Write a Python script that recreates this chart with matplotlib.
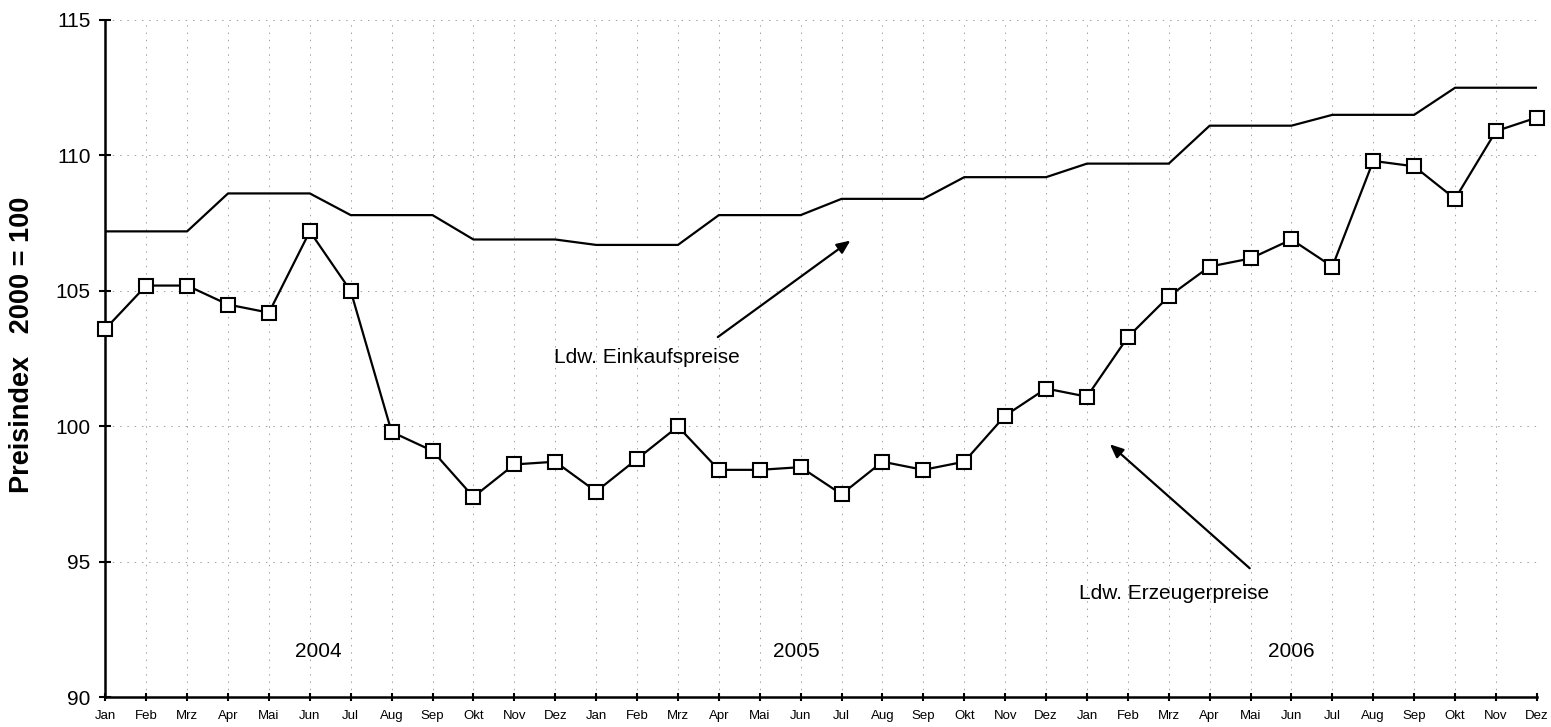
import matplotlib
matplotlib.use("Agg")
import matplotlib.pyplot as plt
import numpy as np

plt.rcParams['font.family'] = ['Liberation Sans', 'DejaVu Sans']

months = ["Jan", "Feb", "Mrz", "Apr", "Mai", "Jun", "Jul", "Aug", "Sep", "Okt", "Nov", "Dez"] * 3
years = ["2004", "2005", "2006"]

einkauf = [107.2, 107.2, 107.2, 108.6, 108.6, 108.6, 107.8, 107.8, 107.8, 106.9, 106.9, 106.9,
           106.7, 106.7, 106.7, 107.8, 107.8, 107.8, 108.4, 108.4, 108.4, 109.2, 109.2, 109.2,
           109.7, 109.7, 109.7, 111.1, 111.1, 111.1, 111.5, 111.5, 111.5, 112.5, 112.5, 112.5]

erzeuger = [103.6, 105.2, 105.2, 104.5, 104.2, 107.2, 105.0, 99.8, 99.1, 97.4, 98.6, 98.7,
            97.6, 98.8, 100.0, 98.4, 98.4, 98.5, 97.5, 98.7, 98.4, 98.7, 100.4, 101.4,
            101.1, 103.3, 104.8, 105.9, 106.2, 106.9, 105.9, 109.8, 109.6, 108.4, 110.9, 111.4]

yticks = [90, 95, 100, 105, 110, 115]

fig = plt.figure(figsize=(15.51, 7.27), dpi=100)
ax = fig.add_axes([0.0679, 0.0406, 0.9230, 0.9319])

x = np.arange(len(months))
ax.plot(x, einkauf, color='black', lw=1.6, zorder=3)
ax.plot(x, erzeuger, color='black', lw=1.6, marker='s', markersize=10.5,
        markerfacecolor='white', markeredgecolor='black', markeredgewidth=1.5, zorder=4,
        clip_on=False)

ax.set_xlim(0, len(months) - 1)
ax.set_ylim(90, 115)
ax.set_yticks(yticks)
ax.set_yticklabels([str(v) for v in yticks], fontsize=15)
ax.set_xticks(x)
ax.set_xticklabels(months, fontsize=9.5)

for s in ['top', 'right']:
    ax.spines[s].set_visible(False)
for s in ['left', 'bottom']:
    ax.spines[s].set_linewidth(1.8)
ax.tick_params(axis='y', direction='inout', length=9, width=1.5, pad=6)
ax.tick_params(axis='x', direction='inout', length=6, width=1.5, pad=6)

ax.grid(True, color='#a0a0a0', lw=0.7, linestyle=(0, (1.5, 6)))
ax.set_axisbelow(True)

ax.set_ylabel("Preisindex   2000 = 100", fontsize=19.5, fontweight='bold')
ax.yaxis.set_label_coords(-0.049, 0.52)

year_pos = [5.2, 16.9, 29.0]
for yp, yl in zip(year_pos, years):
    ax.text(yp, 91.7, yl, fontsize=15, ha='center', va='center')

ax.annotate("", xy=(18.27, 106.92), xytext=(14.92, 103.24),
            arrowprops=dict(arrowstyle='-|>,head_length=0.8,head_width=0.35', color='black', lw=1.6))
ax.text(13.25, 102.54, "Ldw. Einkaufspreise", fontsize=15, ha='center', va='center')

ax.annotate("", xy=(24.51, 99.41), xytext=(28.03, 94.7),
            arrowprops=dict(arrowstyle='-|>,head_length=0.8,head_width=0.35', color='black', lw=1.6))
ax.text(26.14, 93.85, "Ldw. Erzeugerpreise", fontsize=15, ha='center', va='center')

fig.savefig("out.png", dpi=100)
